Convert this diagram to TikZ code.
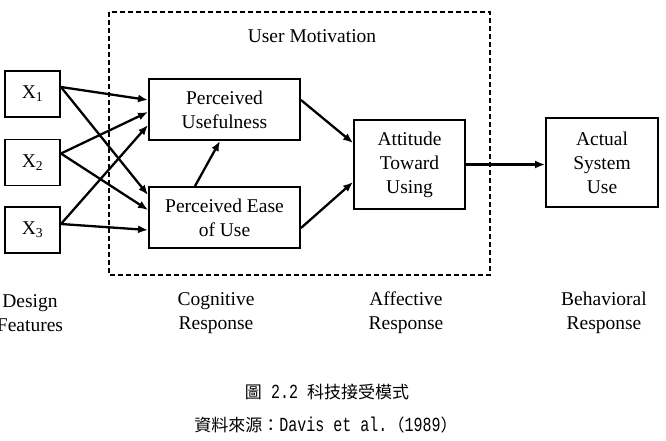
\documentclass[tikz,border=0pt]{standalone}
\usepackage{fontspec}
\setmainfont{Liberation Serif}
\setmonofont{Liberation Mono}
\newfontfamily\cjkfont{Noto Sans CJK TC}
\usetikzlibrary{arrows.meta,calc}
\newcommand{\captt}[1]{{\fontsize{20}{20}\selectfont\ttfamily\scalebox{0.75}[1]{#1}}}

\begin{document}
\begin{tikzpicture}[x=1pt,y=-1pt,
	box/.style={draw,line width=1.9pt,align=center,inner sep=0pt,font=\fontsize{19.5}{24}\selectfont},
	lbl/.style={align=center,font=\fontsize{19.5}{24}\selectfont},
	arr/.style={-{Latex[length=10pt,width=8pt]},line width=2.3pt}]
			\useasboundingbox (0,0) rectangle (666,440);
			% dashed frame
			\draw[line width=1.1pt,dash pattern=on 5pt off 3pt] (109,12) rectangle (490,275);
			\node[lbl] (motiv) at (312,36) {User Motivation};
			% design features
			\foreach \i/\y in {1/94,2/162.5,3/230} {
				\node[box,minimum width=55pt,minimum height=46pt] (x\i) at (32.5,\y) {X\textsubscript{\i}};
			}
			% cognitive, affective, behavioral
			\node[box,minimum width=151pt,minimum height=61pt] (pu) at (224.5,109.5) {Perceived\\Usefulness};
			\node[box,minimum width=151pt,minimum height=61pt] (peou) at (224.5,217.5) {Perceived Ease\\of Use};
			\node[box,minimum width=111pt,minimum height=89pt] (att) at (409.5,164.5) {Attitude\\Toward\\Using};
			\node[box,minimum width=112pt,minimum height=89pt] (act) at (602,162.5) {Actual\\System\\Use};
			% arrows from X
			\foreach \i/\s/\a/\b in {1/7/9.5/22.5,2/9/-2.5/7.5,3/6/-15.5/-12.5} {
				\draw[arr] ([yshift=\s pt]x\i.east) -- ([yshift=\a pt]pu.west);
				\draw[arr] ([yshift=\s pt]x\i.east) -- ([yshift=\b pt]peou.west);
			}
			\draw[arr] ([xshift=-29.5pt]peou.north) -- ([xshift=-4.5pt]pu.south);
			\draw[arr] ([yshift=9.5pt]pu.east) -- ([yshift=21.5pt]att.west);
			\draw[arr] ([yshift=-10.5pt]peou.east) -- ([yshift=-17.5pt]att.west);
			\draw[arr] (att.east) -- (att.east -| act.west);
			% stage labels
			\node[lbl] (design) at (30,313) {Design\\Features};
			\node[lbl] (cogn) at (216,313) {Cognitive\\Response};
			\node[lbl] (affect) at (406,313) {Affective\\Response};
			\node[lbl] (behav) at (604,313) {Behavioral\\Response};
			% caption
			\node[font=\fontsize{17}{20}\selectfont] (cap) at (327,392) {\cjkfont 圖\captt{\ 2.2 }科技接受模式};
			\node[font=\fontsize{17}{20}\selectfont] (src) at (326,425) {\cjkfont 資料來源：\captt{Davis et al.}（\captt{1989}）};
\end{tikzpicture}
\end{document}
